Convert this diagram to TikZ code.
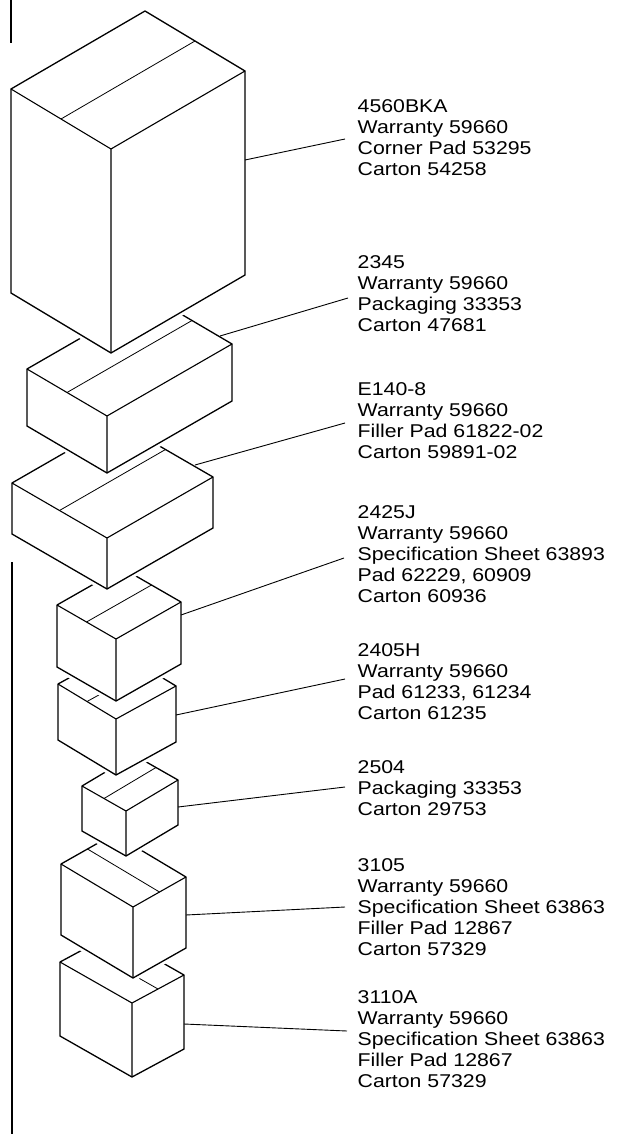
\documentclass[tikz,border=0pt]{standalone}
\usepackage{fontspec}
\setmainfont{Liberation Sans}[FakeStretch=1.15]
\usetikzlibrary{calc}
\tikzset{
  halo/.style={draw=white, fill=white, line width=7pt, line join=round},
  boxedge/.style={draw=black, line width=1.3pt, line join=round},
  foldedge/.style={draw=black, line width=1.1pt},
  tapeline/.style={draw=black, line width=0.8pt},
  leader/.style={draw=black, line width=0.9pt},
  sidebar/.style={draw=black, line width=1.8pt},
  partlabel/.style={anchor=north west, inner sep=0pt, align=left, font=\fontsize{18.5}{21}\selectfont}
}

\begin{document}
\begin{tikzpicture}[x=1pt, y=-1pt]
  \useasboundingbox (0,0) rectangle (644,1134);

  % Cartons, bottom of the stack first so the upper ones cover the lower ones
  \foreach \n/\fx/\fy/\ax/\ay/\bx/\by/\h/\ta/\tb/\tc/\td in {
      8/132/1003/-72/-41/52/-28/74/F/R/L/T,
      7/133/907/-72/-43/53/-30/71/F/R/L/T,
      6/126/811/-44/-25/52/-31/45/F/L/R/T,
      5/116/719/-58/-35/60/-33/56/F/L/R/T,
      4/116/639/-59/-34/65/-37/62/F/L/R/T,
      3/107/538/-95/-55/106/-61/51/F/L/R/T,
      2/107/416/-80/-47/125/-72/57/F/L/R/T,
      1/111/149/-100/-60/134/-78/204/F/L/R/T} {
    \coordinate (F\n) at (\fx,\fy);
    \coordinate (L\n) at ($(F\n)+(\ax,\ay)$);
    \coordinate (R\n) at ($(F\n)+(\bx,\by)$);
    \coordinate (T\n) at ($(L\n)+(\bx,\by)$);
    \coordinate (FB\n) at ($(F\n)+(0,\h)$);
    \coordinate (LB\n) at ($(L\n)+(0,\h)$);
    \coordinate (RB\n) at ($(R\n)+(0,\h)$);
    \filldraw[halo] (L\n) -- (T\n) -- (R\n) -- (RB\n) -- (FB\n) -- (LB\n) -- cycle;
    \draw[boxedge] (L\n) -- (T\n) -- (R\n) -- (RB\n) -- (FB\n) -- (LB\n) -- cycle;
    \draw[foldedge] (L\n) -- (F\n) -- (R\n) (F\n) -- (FB\n);
    \draw[tapeline] ($(\ta\n)!0.5!(\tb\n)$) -- ($(\tc\n)!0.5!(\td\n)$);
  }

  % Part lists
  \node[partlabel] (t1) at (357.5,99.4) {4560BKA\\Warranty 59660\\Corner Pad 53295\\Carton 54258};
  \node[partlabel] (t2) at (357.5,255.4) {2345\\Warranty 59660\\Packaging 33353\\Carton 47681};
  \node[partlabel] (t3) at (357.5,382.4) {E140-8\\Warranty 59660\\Filler Pad 61822-02\\Carton 59891-02};
  \node[partlabel] (t4) at (357.5,505.4) {2425J\\Warranty 59660\\Specification Sheet 63893\\Pad 62229, 60909\\Carton 60936};
  \node[partlabel] (t5) at (357.5,643.4) {2405H\\Warranty 59660\\Pad 61233, 61234\\Carton 61235};
  \node[partlabel] (t6) at (357.5,760.4) {2504\\Packaging 33353\\Carton 29753};
  \node[partlabel] (t7) at (357.5,858.4) {3105\\Warranty 59660\\Specification Sheet 63863\\Filler Pad 12867\\Carton 57329};
  \node[partlabel] (t8) at (357.5,990.4) {3110A\\Warranty 59660\\Specification Sheet 63863\\Filler Pad 12867\\Carton 57329};

  % Leaders
  \foreach \n/\sx/\sy/\ex/\ey in {1/245/160/345/139, 2/220/336/348/298, 3/195/465/345/423,
      4/181/615/344/558, 5/176/715/345/679, 6/178/807/345/787, 7/186/915/345/907, 8/184/1024/347/1031} {
    \coordinate (a\n) at (\sx,\sy);
    \coordinate (e\n) at (\ex,\ey);
    \draw[leader] (a\n) -- (e\n);
  }

  % Margin bars
  \draw[sidebar] (11,0) -- (11,43);
  \draw[sidebar] (12,562) -- (12,1134);
\end{tikzpicture}
\end{document}
